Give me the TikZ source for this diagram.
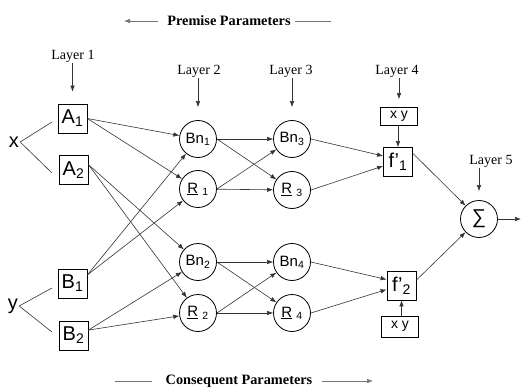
\documentclass[tikz,border=0pt]{standalone}
\usepackage{fontspec}
\setmainfont{Liberation Serif}
\setsansfont{Liberation Sans}
\usetikzlibrary{arrows.meta,positioning,calc}

\begin{document}
\begin{tikzpicture}[x=1pt,y=-1pt,
    box/.style={draw,line width=0.8pt,inner sep=0pt,minimum width=29pt,minimum height=29pt,font=\sffamily\fontsize{20}{20}\selectfont},
    neuron/.style={circle,draw,line width=0.8pt,inner sep=0pt,minimum size=37pt,font=\sffamily\fontsize{15}{15}\selectfont},
    xybox/.style={draw,line width=0.8pt,inner sep=0pt,minimum width=37pt,minimum height=18pt,font=\sffamily\fontsize{14}{14}\selectfont},
    layer/.style={font=\fontsize{14}{14}\selectfont,inner sep=1pt},
    title/.style={font=\bfseries\fontsize{14.3}{15}\selectfont,inner sep=0pt},
    inp/.style={font=\sffamily\fontsize{20}{20}\selectfont,inner sep=1pt},
    arr/.style={draw=black!80,line width=0.6pt,-{Latex[length=6pt,width=4.5pt]}},
    ln/.style={draw=black!80,line width=0.6pt}]

  \useasboundingbox (0,0) rectangle (524,390);

  % parameter titles
  \node[title] (prem) at (229,21) {Premise Parameters};
  \coordinate (pa) at (124,21);
  \coordinate (pb) at (331,21);
  \draw[arr,draw=black!55,shorten <=9pt] (prem.west) -- (pa);
  \draw[ln,draw=black!55,shorten <=4pt] (prem.east) -- (pb);

  \node[title] (cons) at (239,381) {Consequent Parameters};
  \coordinate (ca) at (115,381);
  \coordinate (cb) at (373,381);
  \draw[ln,draw=black!55,shorten <=14pt] (cons.west) -- (ca);
  \draw[arr,draw=black!55,shorten <=10pt] (cons.east) -- (cb);

  % inputs
  \node[inp] (xin) at (14,142) {x};
  \node[inp] (yin) at (13,306) {y};
  \coordinate (xa) at (52,122);
  \coordinate (xb) at (52,173);
  \coordinate (ya) at (52,288);
  \coordinate (yb) at (52,332);
  \draw[ln] (xa) -- (xin.east) -- (xb);
  \draw[ln] (ya) -- (yin.east) -- (yb);

  % layer 1
  \node[box] (A1) at (72.5,118.5) {A\textsubscript{1}};
  \node[box] (A2) at (73.5,170) {A\textsubscript{2}};
  \node[box] (B1) at (72.5,283.5) {B\textsubscript{1}};
  \node[box] (B2) at (73.5,335.5) {B\textsubscript{2}};

  % layer 2
  \node[neuron] (Bn1) at (198,139) {Bn\textsubscript{1}};
  \node[neuron] (R1) at (198,189) {\underline{R} \textsubscript{1}};
  \node[neuron] (Bn2) at (198,262) {Bn\textsubscript{2}};
  \node[neuron] (R2) at (198,313) {\underline{R} \textsubscript{2}};

  % layer 3
  \node[neuron] (Bn3) at (292,139) {Bn\textsubscript{3}};
  \node[neuron] (R3) at (292,190) {\underline{R} \textsubscript{3}};
  \node[neuron] (Bn4) at (292,262) {Bn\textsubscript{4}};
  \node[neuron] (R4) at (292,313) {\underline{R} \textsubscript{4}};

  % layer 4
  \node[xybox] (xy1) at (399,116.5) {x y};
  \node[box] (f1) at (398,162) {f’\textsubscript{1}};
  \node[box] (f2) at (401.5,285.5) {f’\textsubscript{2}};
  \node[xybox,minimum height=21pt] (xy2) at (400,326.5) {x y};

  % layer 5
  \node[neuron,font=\sffamily\fontsize{20}{20}\selectfont] (sig) at (479,219) {∑};
  \coordinate (out) at (521,219);

  % layer labels
  \node[layer] (lay1) at (73,56) {Layer 1};
  \node[layer] (lay2) at (199,71) {Layer 2};
  \node[layer] (lay3) at (291,71) {Layer 3};
  \node[layer] (lay4) at (397,71) {Layer 4};
  \node[layer] (lay5) at (491,161) {Layer 5};
  \draw[arr,shorten >=12pt] (A1.north |- lay1.south) -- (A1.north);
  \draw[arr,shorten >=13pt] (Bn1.north |- lay2.south) -- (Bn1.north);
  \draw[arr,shorten >=13pt] (Bn3.north |- lay3.south) -- (Bn3.north);
  \draw[arr,shorten >=8pt] (xy1.north |- lay4.south) -- (xy1.north);
  \draw[arr,shorten >=9pt] (sig.north |- lay5.south) -- (sig.north);

  % layer 1 -> layer 2
  \draw[arr] (A1.east) -- (Bn1);
  \draw[arr] (A1.east) -- (R1);
  \draw[arr] (A2.20) -- (Bn2);
  \draw[arr] (A2.20) -- (R2);
  \draw[arr] (B1.30) -- (Bn1);
  \draw[arr] (B1.30) -- (R1);
  \draw[arr] (B2.20) -- (Bn2);
  \draw[arr] (B2.20) -- (R2);

  % layer 2 -> layer 3
  \draw[arr] (Bn1) -- (Bn3);
  \draw[arr] (R1) -- (R3);
  \draw[arr] (Bn1.east) -- (R3);
  \draw[arr] (R1.east) -- (Bn3);
  \draw[arr] (Bn2) -- (Bn4);
  \draw[arr] (R2) -- (R4);
  \draw[arr] (Bn2.east) -- (R4);
  \draw[arr] (R2.east) -- (Bn4);

  % layer 3 -> layer 4
  \draw[arr] (Bn3.east) -- ([yshift=6pt]f1.west);
  \draw[arr] (R3.east) -- ([yshift=-4pt]f1.west);
  \draw[arr] (Bn4.east) -- ([yshift=6pt]f2.west);
  \draw[arr] (R4.east) -- ([yshift=-4pt]f2.west);
  \draw[arr] (f1.north |- xy1.south) -- (f1.north);
  \draw[arr] (f2.south |- xy2.north) -- (f2.south);

  % layer 4 -> layer 5 -> output
  \draw[arr] (f1.30) -- (sig);
  \draw[arr] (f2.20) -- (sig);
  \draw[arr] (sig) -- (out);
\end{tikzpicture}
\end{document}
